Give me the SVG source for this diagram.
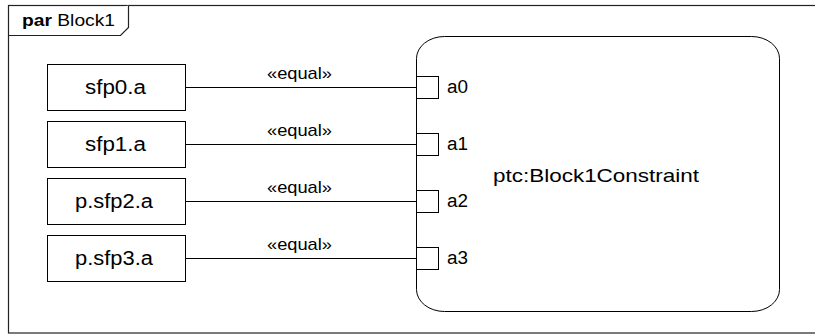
<svg xmlns="http://www.w3.org/2000/svg" width="815" height="336" viewBox="0 0 815 336">
<style>
text{font-family:"Liberation Sans",Arial,sans-serif;fill:#000}
.frame{fill:#fff;stroke:#222;stroke-width:1.2}
.box{fill:#fff;stroke:#000;stroke-width:1}
.lbl{font-size:20px}
.st{font-size:17px}
.port{fill:#fff;stroke:#000;stroke-width:1}
.pl{font-size:18px}
.conn{stroke:#000;stroke-width:1;fill:none}
</style>
<rect width="815" height="336" fill="#fff"/>
<g id="frame">
<rect class="frame" x="8.5" y="5.5" width="820" height="327.5"/>
<path class="frame" d="M8.5,35.5 H120.5 L128.5,27.5 V5.5"/>
<text x="22" y="26" font-size="16.5" textLength="93" lengthAdjust="spacingAndGlyphs"><tspan font-weight="bold">par</tspan> Block1</text>
</g>
<g id="connectors">
<line class="conn" x1="185" y1="87.5" x2="416" y2="87.5"/>
<line class="conn" x1="185" y1="144.5" x2="416" y2="144.5"/>
<line class="conn" x1="185" y1="201.5" x2="416" y2="201.5"/>
<line class="conn" x1="185" y1="258.5" x2="416" y2="258.5"/>
<text class="st" x="267" y="79" textLength="65" lengthAdjust="spacingAndGlyphs">«equal»</text>
<text class="st" x="267" y="136" textLength="65" lengthAdjust="spacingAndGlyphs">«equal»</text>
<text class="st" x="267" y="193" textLength="65" lengthAdjust="spacingAndGlyphs">«equal»</text>
<text class="st" x="267" y="250" textLength="65" lengthAdjust="spacingAndGlyphs">«equal»</text>
</g>
<g id="sfp0a"><rect class="box" x="47.5" y="64.5" width="138" height="46"/><text class="lbl" x="85" y="94" textLength="61" lengthAdjust="spacingAndGlyphs">sfp0.a</text></g>
<g id="sfp1a"><rect class="box" x="47.5" y="121.5" width="138" height="46"/><text class="lbl" x="85" y="151" textLength="61" lengthAdjust="spacingAndGlyphs">sfp1.a</text></g>
<g id="psfp2a"><rect class="box" x="47.5" y="178.5" width="138" height="46"/><text class="lbl" x="75" y="208" textLength="78" lengthAdjust="spacingAndGlyphs">p.sfp2.a</text></g>
<g id="psfp3a"><rect class="box" x="47.5" y="235.5" width="138" height="46"/><text class="lbl" x="75" y="265" textLength="78" lengthAdjust="spacingAndGlyphs">p.sfp3.a</text></g>
<g id="ptc">
<rect class="box" x="416.5" y="36.5" width="363" height="275" rx="28" ry="22"/>
<text x="493" y="182" font-size="19" textLength="206" lengthAdjust="spacingAndGlyphs">ptc:Block1Constraint</text>
<rect class="port" x="416.5" y="76.5" width="22" height="22"/><text class="pl" x="447" y="93" textLength="21" lengthAdjust="spacingAndGlyphs">a0</text>
<rect class="port" x="416.5" y="133.5" width="22" height="22"/><text class="pl" x="447" y="150" textLength="21" lengthAdjust="spacingAndGlyphs">a1</text>
<rect class="port" x="416.5" y="190.5" width="22" height="22"/><text class="pl" x="447" y="207" textLength="21" lengthAdjust="spacingAndGlyphs">a2</text>
<rect class="port" x="416.5" y="247.5" width="22" height="22"/><text class="pl" x="447" y="264" textLength="21" lengthAdjust="spacingAndGlyphs">a3</text>
</g>
</svg>
